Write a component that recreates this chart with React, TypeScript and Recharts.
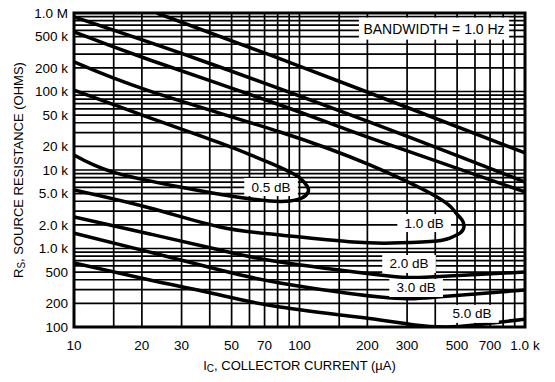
import React from "react";
import {
  LineChart,
  Line,
  XAxis,
  YAxis,
  CartesianGrid,
  ReferenceArea,
  ReferenceDot,
} from "recharts";

const FONT = "'Liberation Sans', Arial, Helvetica, sans-serif";

// noise figure contours: collector current (µA) vs source resistance (ohms)
const nf05Ic = [10, 21.7, 44.4, 73.9, 90.8, 100.5, 108, 109.2, 102.5, 90.8, 73.9, 49.2, 29.5, 14.9, 10];
const nf05Rs = [104000, 46000, 22100, 12300, 9400, 7900, 6250, 5250, 4390, 4030, 4030, 4670, 6070, 9400, 15500];

const nf10Ic = [10, 21.7, 82, 205, 407, 490, 526, 536, 515, 465, 407, 279, 173, 82, 44.4, 21.7, 10];
const nf10Rs = [238000, 101000, 30500, 11600, 4530, 2920, 2310, 1880, 1570, 1360, 1250, 1180, 1210, 1490, 1880, 3280, 5560];

const nf20UpperIc = [10, 21.7, 82, 205, 1000];
const nf20UpperRs = [573000, 252000, 67300, 25600, 5250];
const nf20LowerIc = [10, 21.7, 44.4, 82, 227.5, 379, 1000];
const nf20LowerRs = [2520, 1530, 957, 673, 460, 433, 502];

const nf30UpperIc = [10, 36.2, 205, 1000];
const nf30UpperRs = [889000, 252000, 40800, 7030];
const nf30LowerIc = [10, 21.7, 44.4, 82, 227.5, 407, 1000];
const nf30LowerRs = [1570, 900, 532, 364, 241, 241, 296];

const nf50UpperIc = [23.3, 73.9, 205, 1000];
const nf50UpperRs = [1000000, 292000, 95700, 16500];
const nf50LowerIc = [10, 21.7, 44.4, 82, 227.5, 325, 442, 600, 1000];
const nf50LowerRs = [653, 397, 256, 180, 123, 106, 100, 106, 126];

const xTicks = [10, 15, 20, 30, 40, 50, 60, 70, 80, 90, 100, 150, 200, 300, 400, 500, 600, 700, 800, 900, 1000];
const xTickLabels: Record<number, string> = {
  10: "10", 20: "20", 30: "30", 50: "50", 70: "70", 100: "100",
  200: "200", 300: "300", 500: "500", 700: "700", 1000: "1.0 k",
};

const yTicks = [
  100, 200, 300, 400, 500, 600, 700, 800, 900,
  1000, 2000, 3000, 4000, 5000, 6000, 7000, 8000, 9000,
  10000, 20000, 30000, 40000, 50000, 60000, 70000, 80000, 90000,
  100000, 200000, 300000, 400000, 500000, 600000, 700000, 800000, 900000,
  1000000,
];
const yTickLabels: Record<number, string> = {
  100: "100", 200: "200", 500: "500", 1000: "1.0 k", 2000: "2.0 k", 5000: "5.0 k",
  10000: "10 k", 20000: "20 k", 50000: "50 k", 100000: "100 k", 200000: "200 k",
  500000: "500 k", 1000000: "1.0 M",
};

const curveLabels = [
  { text: "0.5 dB", ic: 74.8, rs: 6070 },
  { text: "1.0 dB", ic: 357, rs: 2110 },
  { text: "2.0 dB", ic: 306, rs: 635 },
  { text: "3.0 dB", ic: 329, rs: 314 },
  { text: "5.0 dB", ic: 582, rs: 147 },
  { text: "BANDWIDTH = 1.0 Hz", ic: 395, rs: 632000 },
];

const zip = (ic: number[], rs: number[]) => ic.map((x, i) => ({ ic: x, rs: rs[i] }));

const contours = [
  { id: "nf05", data: zip(nf05Ic, nf05Rs) },
  { id: "nf10", data: zip(nf10Ic, nf10Rs) },
  { id: "nf20u", data: zip(nf20UpperIc, nf20UpperRs) },
  { id: "nf20l", data: zip(nf20LowerIc, nf20LowerRs) },
  { id: "nf30u", data: zip(nf30UpperIc, nf30UpperRs) },
  { id: "nf30l", data: zip(nf30LowerIc, nf30LowerRs) },
  { id: "nf50u", data: zip(nf50UpperIc, nf50UpperRs) },
  { id: "nf50l", data: zip(nf50LowerIc, nf50LowerRs) },
];

function Tag({ cx, cy, text }: { cx: number; cy: number; text: string }) {
  const big = text.length > 10;
  const w = text.length * (big ? 7.9 : 7.6) + 8;
  const h = big ? 22 : 18;
  return (
    <g>
      <rect x={cx - w / 2} y={cy - h / 2} width={w} height={h} fill="#fff" />
      <text
        x={cx}
        y={cy}
        textAnchor="middle"
        dominantBaseline="central"
        fontSize={big ? 14 : 13.5}
        fontFamily={FONT}
        fill="#000"
      >
        {text}
      </text>
    </g>
  );
}

const yTitle = (props: any) => {
  const vb = props.viewBox;
  const cx = vb.x + 18;
  const cy = vb.y + vb.height / 2;
  return (
    <text
      transform={`translate(${cx},${cy}) rotate(-90)`}
      textAnchor="middle"
      dominantBaseline="central"
      fontSize={13}
      fontFamily={FONT}
      fill="#000"
    >
      R<tspan fontSize={10} dy={3}>S</tspan>
      <tspan dy={-3}>, SOURCE RESISTANCE (OHMS)</tspan>
    </text>
  );
};

const xTitle = (props: any) => {
  const vb = props.viewBox;
  const cx = vb.x + vb.width / 2;
  const cy = vb.y + 38;
  return (
    <text x={cx} y={cy} textAnchor="middle" dominantBaseline="central" fontSize={13} fontFamily={FONT} fill="#000">
      I<tspan fontSize={10} dy={3}>C</tspan>
      <tspan dy={-3}>, COLLECTOR CURRENT (µA)</tspan>
    </text>
  );
};

export default function App() {
  return (
    <div style={{ position: "absolute", left: 0, top: 0, background: "#fff" }}>
      <LineChart width={555} height={382} margin={{ top: 13, right: 30, bottom: 0, left: 0 }}>
        <CartesianGrid stroke="#000" strokeWidth={1.7} />
        <XAxis
          dataKey="ic"
          type="number"
          scale="log"
          domain={[10, 1000]}
          allowDataOverflow
          ticks={xTicks}
          interval={0}
          height={55}
          axisLine={false}
          tickLine={false}
          tickSize={4}
          tickMargin={9}
          tickFormatter={(v: number) => xTickLabels[v] ?? ""}
          tick={{ fill: "#000", fontSize: 13.5, fontFamily: FONT }}
          label={xTitle}
        />
        <YAxis
          dataKey="rs"
          type="number"
          scale="log"
          domain={[100, 1000000]}
          allowDataOverflow
          ticks={yTicks}
          interval={0}
          width={74}
          axisLine={false}
          tickLine={false}
          tickSize={4}
          tickMargin={2}
          tickFormatter={(v: number) => yTickLabels[v] ?? ""}
          tick={{ fill: "#000", fontSize: 13.5, fontFamily: FONT }}
          label={yTitle}
        />
        <ReferenceArea x1={10} x2={1000} y1={100} y2={1000000} fill="none" stroke="#000" strokeWidth={3} />
        {contours.map((c) => (
          <Line
            key={c.id}
            data={c.data}
            dataKey="rs"
            type="natural"
            stroke="#000"
            strokeWidth={3.5}
            dot={false}
            activeDot={false}
            isAnimationActive={false}
          />
        ))}
        {curveLabels.map((l) => (
          <ReferenceDot
            key={l.text}
            x={l.ic}
            y={l.rs}
            r={0}
            shape={(p: any) => <Tag cx={p.cx} cy={p.cy} text={l.text} />}
          />
        ))}
      </LineChart>
    </div>
  );
}
